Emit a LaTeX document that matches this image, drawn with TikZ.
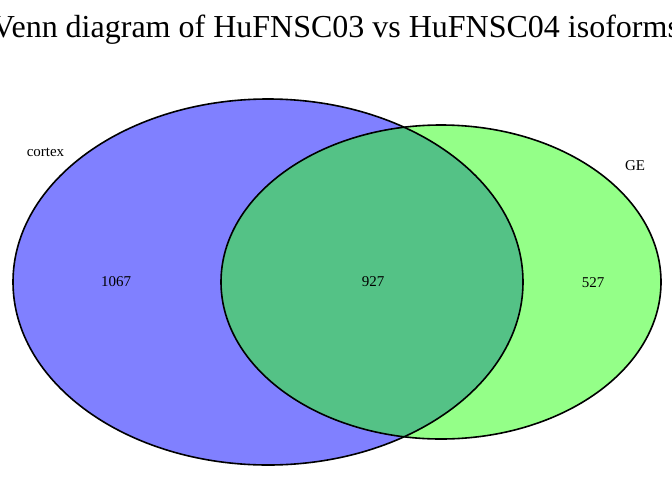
\documentclass[tikz,border=0pt]{standalone}
\usepackage{fontspec}
\setmainfont{Liberation Serif}
\usepackage{tikz}
\definecolor{cortexblue}{RGB}{128,128,255}
\definecolor{gegreen}{RGB}{148,255,136}
\definecolor{bothgreen}{RGB}{84,194,134}
\tikzset{setline/.style={line width=1.6pt,black},
  cnt/.style={font=\fontsize{15}{17}\selectfont,inner sep=0pt},
  setname/.style={font=\fontsize{15}{17}\selectfont,inner sep=0pt}}
\begin{document}
\begin{tikzpicture}[x=1pt,y=-1pt]
\useasboundingbox (0,0) rectangle (672,480);
\fill[cortexblue](268,282) ellipse [x radius=255,y radius=183];
\fill[gegreen](441,282) ellipse [x radius=220,y radius=157];
\begin{scope}
\clip (268,282) ellipse [x radius=255,y radius=183];
\fill[bothgreen](441,282) ellipse [x radius=220,y radius=157];
\end{scope}
\draw[setline](268,282) ellipse [x radius=255,y radius=183];
\draw[setline](441,282) ellipse [x radius=220,y radius=157];
\node[anchor=base,inner sep=0pt,font=\fontsize{32}{36}\selectfont] (title) at (336,37) {Venn diagram of HuFNSC03 vs HuFNSC04 isoforms};
\node[setname] (cortex) at (45.5,152) {cortex};
\node[setname] (ge) at (635,166) {GE};
\node[cnt] (onlycortex) at (116,282) {1067};
\node[cnt] (both) at (373,282) {927};
\node[cnt] (onlyge) at (593,283) {527};
\end{tikzpicture}
\end{document}
